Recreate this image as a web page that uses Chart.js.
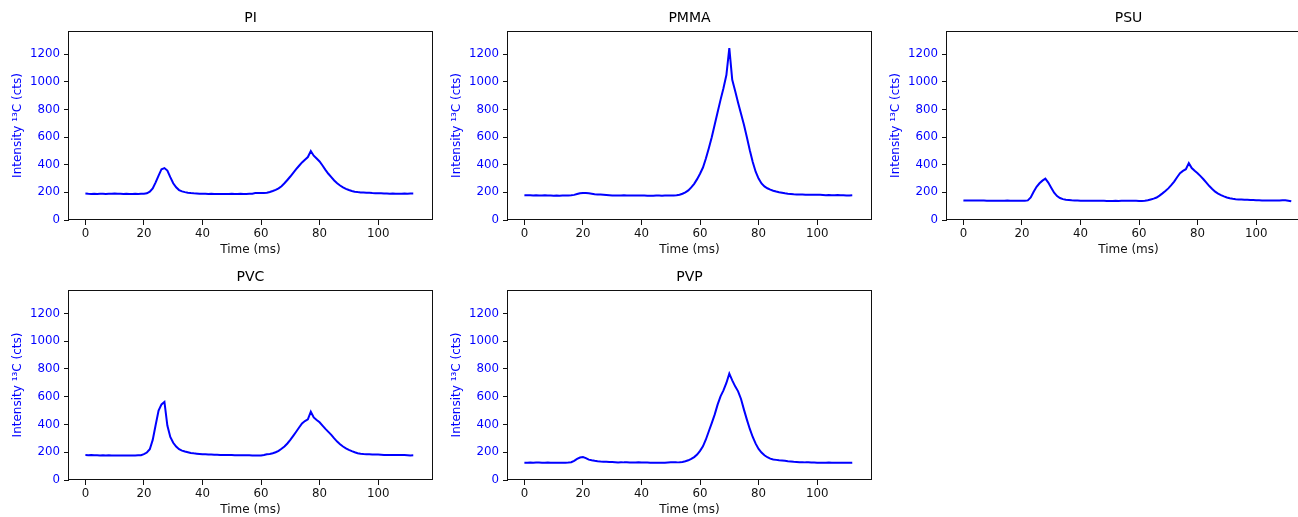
<!DOCTYPE html>
<html>
<head>
<meta charset="utf-8">
<script src="https://cdn.jsdelivr.net/npm/chart.js@4.4.0/dist/chart.umd.min.js"></script>
<style>
html, body { margin:0; padding:0; background:#fff; overflow:hidden; width:1298px; height:517px; }
canvas { position:absolute; }
</style>
</head>
<body>
<script>
// ---- data ----
const titles = ['PI', 'PMMA', 'PSU', 'PVC', 'PVP'];
const timeMs = [
  0,1,2,3,4,5,6,7,8,9,
  10,11,12,13,14,15,16,17,18,19,
  20,21,22,23,24,25,26,27,28,29,
  30,31,32,33,34,35,36,37,38,39,
  40,41,42,43,44,45,46,47,48,49,
  50,51,52,53,54,55,56,57,58,59,
  60,61,62,63,64,65,66,67,68,69,
  70,71,72,73,74,75,76,77,78,79,
  80,81,82,83,84,85,86,87,88,89,
  90,91,92,93,94,95,96,97,98,99,
  100,101,102,103,104,105,106,107,108,109,
  110,111,112
];
const piCounts = [
  192,190,189,190,189,191,190,189,190,191,
  192,191,190,189,190,189,189,190,189,190,
  190,193,205,229,273,322,368,376,358,310,
  266,237,217,207,202,198,195,193,192,191,
  190,190,189,190,189,188,189,189,188,189,
  190,188,189,190,189,189,190,191,196,195,
  195,196,198,203,210,218,229,245,266,290,
  315,342,368,393,417,437,456,500,466,445,
  424,395,363,335,310,286,266,250,237,226,
  217,210,205,202,200,199,198,197,195,194,
  193,193,192,192,191,192,191,190,191,192,
  191,192,192
];
const pmmaCounts = [
  180,179,179,178,179,178,178,179,178,177,
  176,177,176,177,177,178,179,182,188,194,
  196,195,193,190,187,185,184,183,181,179,
  177,177,178,178,179,178,178,177,177,178,
  177,177,176,176,176,177,177,176,177,177,
  177,178,179,183,190,200,214,236,262,296,
  335,380,445,520,600,690,780,870,955,1050,
  1245,1015,935,850,770,690,600,505,420,350,
  300,265,243,230,220,212,206,201,197,193,
  190,188,186,185,184,184,183,183,182,182,
  183,182,181,180,181,179,180,181,180,179,
  178,178,179
];
const psuCounts = [
  142,141,141,142,141,141,142,141,140,140,
  140,140,139,140,140,141,140,139,140,140,
  140,140,142,163,205,241,266,285,299,271,
  234,198,173,159,151,147,145,143,142,141,
  140,140,140,139,140,140,139,140,139,138,
  138,138,139,138,139,139,140,140,139,139,
  138,138,139,143,149,155,163,177,193,210,
  229,252,278,310,339,356,368,412,376,356,
  339,318,295,270,246,225,205,191,180,171,
  163,158,154,151,149,148,147,146,145,144,
  143,143,142,142,142,141,142,142,142,143,
  143,140,136
];
const pvcCounts = [
  180,179,180,178,179,177,178,176,178,177,
  177,176,177,177,176,177,177,177,178,179,
  186,198,222,289,396,500,545,562,392,310,
  268,241,222,212,205,200,195,192,190,188,
  186,185,184,183,182,182,181,181,180,181,
  180,179,179,178,178,178,178,177,177,177,
  176,180,186,188,193,200,210,225,241,263,
  289,318,348,378,408,425,437,492,451,433,
  416,392,368,347,325,300,277,258,241,228,
  217,208,200,193,189,187,186,185,184,183,
  183,182,181,181,180,180,181,181,180,180,
  179,177,178
];
const pvpCounts = [
  125,125,126,125,126,126,125,125,126,125,
  124,124,124,125,125,126,128,138,152,162,
  166,158,147,142,138,135,133,132,131,130,
  129,128,127,128,127,127,126,126,126,127,
  126,126,126,125,125,124,124,125,125,126,
  127,127,127,128,130,135,142,152,165,183,
  210,243,292,351,410,471,543,603,646,699,
  766,718,675,639,584,507,435,368,310,262,
  224,198,178,164,154,148,145,142,140,138,
  135,133,131,130,128,128,127,127,126,126,
  125,125,125,125,126,125,125,125,125,125,
  125,124,125
];
const seriesList = [piCounts, pmmaCounts, psuCounts, pvcCounts, pvpCounts];
const xTicks = [0, 20, 40, 60, 80, 100];
const yTicks = [0, 200, 400, 600, 800, 1000, 1200];

// ---- layout (page placement of each panel canvas) ----
const placement = [
  { left: 0,   top: 0,   h: 259 },
  { left: 439, top: 0,   h: 259 },
  { left: 878, top: 0,   h: 259 },
  { left: 0,   top: 259, h: 260 },
  { left: 439, top: 259, h: 260 }
];
const CANVAS_W = 442;
const FONT = "'DejaVu Sans', 'Liberation Sans', sans-serif";

const framePlugin = {
  id: 'frame',
  afterDatasetsDraw(chart) {
    const { ctx, chartArea: a } = chart;
    ctx.save();
    ctx.strokeStyle = '#111';
    ctx.lineWidth = 1;
    ctx.strokeRect(Math.round(a.left) - 0.5, Math.round(a.top) + 0.5,
                   Math.round(a.right - a.left) + 1, Math.round(a.bottom - a.top) - 1);
    ctx.restore();
  }
};

titles.forEach((title, i) => {
  const p = placement[i];
  const cv = document.createElement('canvas');
  cv.width = CANVAS_W;
  cv.height = p.h;
  cv.style.left = p.left + 'px';
  cv.style.top = p.top + 'px';
  cv.style.width = CANVAS_W + 'px';
  cv.style.height = p.h + 'px';
  document.body.appendChild(cv);

  const values = seriesList[i];
  const points = timeMs.map((t, k) => ({ x: t, y: values[k] }));

  new Chart(cv, {
    type: 'line',
    data: {
      datasets: [{
        data: points,
        borderColor: '#0000ff',
        borderWidth: 2,
        pointRadius: 0,
        tension: 0,
        fill: false
      }]
    },
    plugins: [framePlugin],
    options: {
      responsive: false,
      animation: false,
      devicePixelRatio: 1,
      layout: { padding: { left: 0, right: 10, top: 0, bottom: 0 } },
      plugins: {
        legend: { display: false },
        tooltip: { enabled: false },
        title: {
          display: true,
          text: title,
          fullSize: false,
          color: '#000',
          font: { family: FONT, size: 14, weight: 'normal' },
          padding: { top: 9.6, bottom: 4.6 }
        }
      },
      scales: {
        x: {
          type: 'linear',
          min: -5.6,
          max: 118.4,
          afterBuildTicks: (s) => { s.ticks = xTicks.map(v => ({ value: v })); },
          afterFit: (s) => { s.height = 39; },
          grid: { display: true, drawOnChartArea: false, drawTicks: true, tickLength: 5, color: '#111', lineWidth: 1 },
          border: { display: false },
          ticks: {
            color: '#111',
            font: { family: FONT, size: 11.8 },
            padding: 2,
            maxRotation: 0,
            callback: (v) => String(v)
          },
          title: {
            display: true,
            text: 'Time (ms)',
            color: '#111',
            font: { family: FONT, size: 12 },
            padding: { top: 0, bottom: 1.8 }
          }
        },
        y: {
          type: 'linear',
          min: 0,
          max: 1369,
          afterBuildTicks: (s) => { s.ticks = yTicks.map(v => ({ value: v })); },
          afterFit: (s) => { s.width = 69; },
          grid: { display: true, drawOnChartArea: false, drawTicks: true, tickLength: 5, color: '#111', lineWidth: 1 },
          border: { display: false },
          ticks: {
            color: '#0000ff',
            font: { family: FONT, size: 11.8 },
            padding: 4,
            callback: (v) => String(v)
          },
          title: {
            display: true,
            text: 'Intensity \u00B9\u00B3C (cts)',
            color: '#0000ff',
            font: { family: FONT, size: 12 },
            padding: { top: 10.8, bottom: 0 }
          }
        }
      }
    }
  });
});
</script>
</body>
</html>
